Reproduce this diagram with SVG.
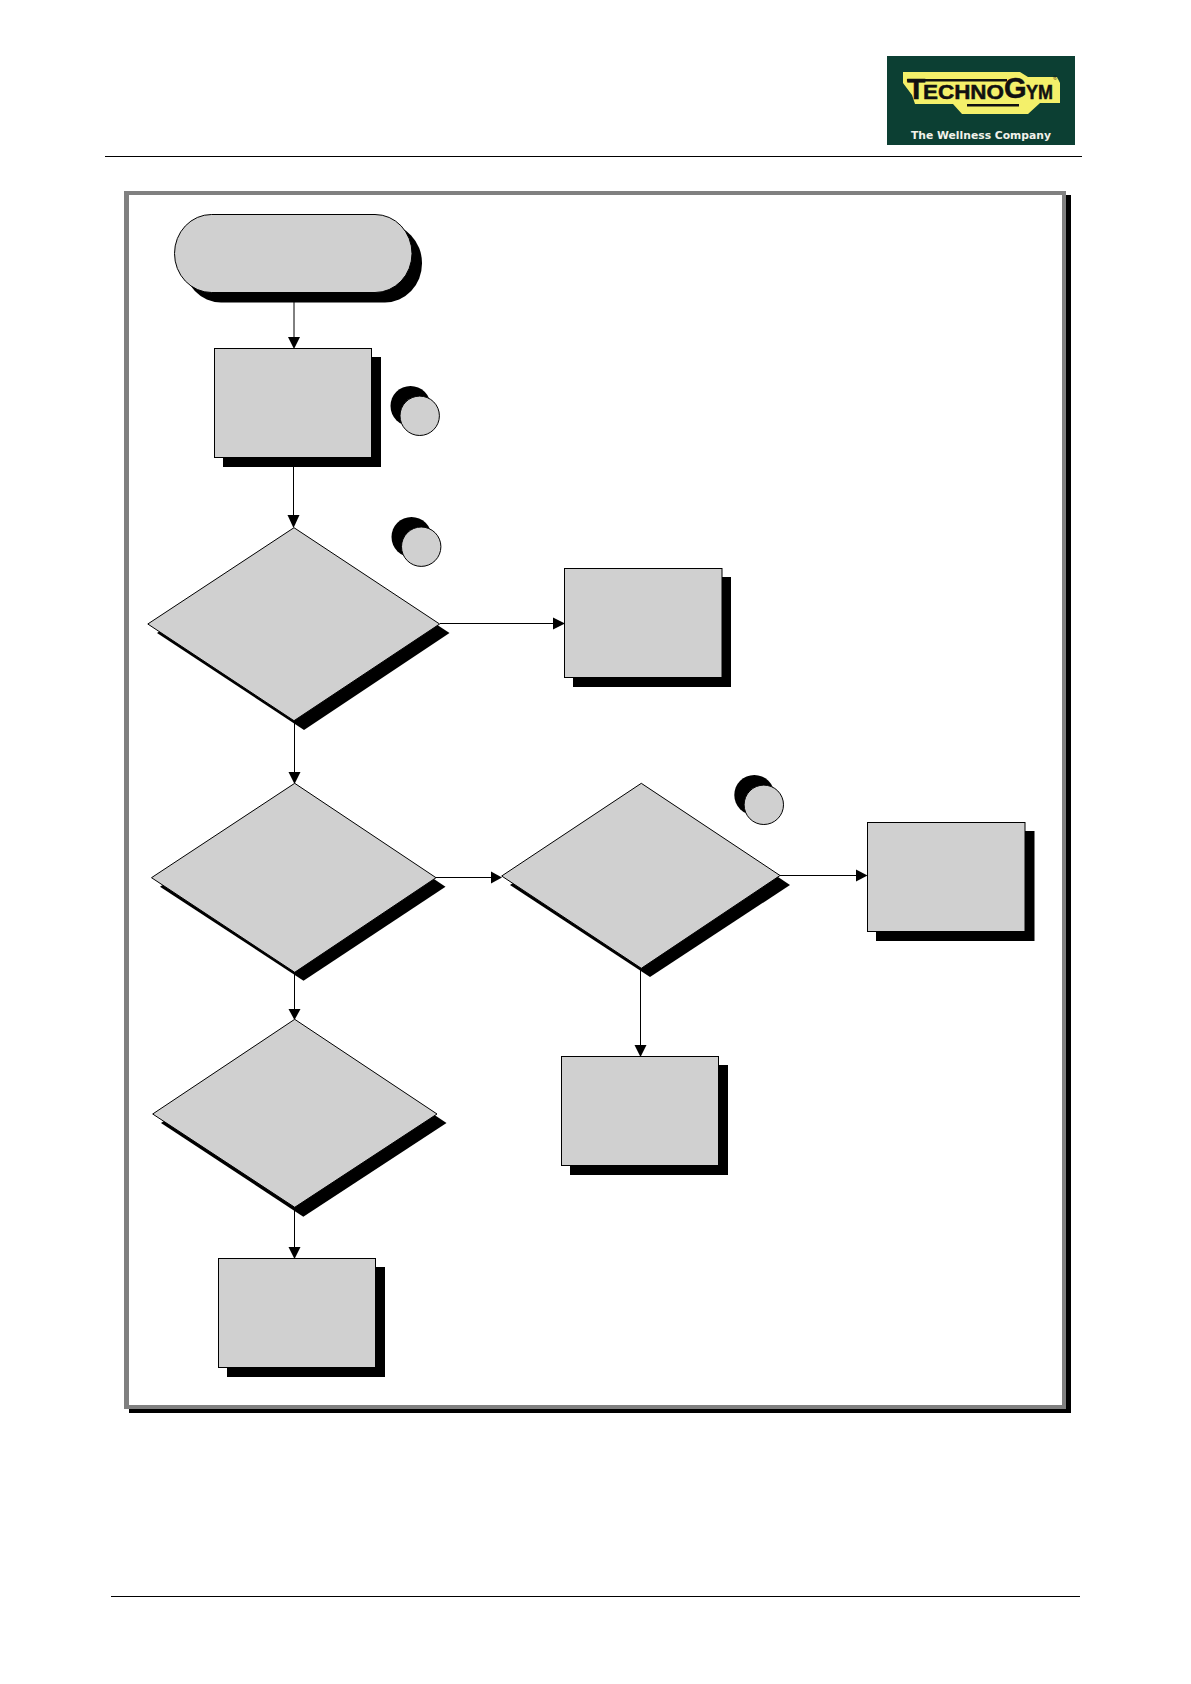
<svg xmlns="http://www.w3.org/2000/svg" width="1191" height="1684" viewBox="0 0 1191 1684">
<style>
.n{fill:#d0d0d0;stroke:#000;stroke-width:1}
.s{fill:#000}
.c{fill:none;stroke:#000;stroke-width:1}
.h{fill:#000}
.r{fill:#000;stroke:none}
.lg{fill:#111;font-family:'Liberation Sans',Arial,sans-serif;font-weight:700;stroke:#111;stroke-width:.5}
</style>
<rect width="1191" height="1684" fill="#fff"/>
<g id="page-lines">
<rect class="r" x="105" y="156" width="977" height="1"/>
<rect class="r" x="111" y="1596" width="969" height="1"/>
</g>
<g id="logo">
<rect x="887" y="56" width="188" height="89" fill="#0c3f33"/>
<polygon points="903,72 1020,72 1028,77 1057,77 1060,83 1060,103 1040,103 1028,114 962,114 953,104 915,104 912,95 903,83" fill="#f4f06a"/>
<text class="lg" transform="translate(907,99)"><tspan x="0" font-size="30">T</tspan><tspan x="16" font-size="21" textLength="81" lengthAdjust="spacingAndGlyphs">ECHNO</tspan><tspan x="97" y="-1" font-size="29">G</tspan><tspan x="119" y="0" font-size="21" textLength="27" lengthAdjust="spacingAndGlyphs">YM</tspan></text>
<rect x="907" y="79" width="100" height="2.500" fill="#111"/>
<rect x="967" y="104" width="52" height="2.500" fill="#111"/>
<text x="1053" y="80" font-family="'Liberation Sans',Arial,sans-serif" font-size="6" fill="#111">®</text>
<text x="981" y="139" text-anchor="middle" font-family="'DejaVu Sans',sans-serif" font-weight="700" font-size="11" fill="#f2f2ea" textLength="140" lengthAdjust="spacingAndGlyphs">The Wellness Company</text>
</g>
<g id="frame">
<rect class="r" x="129" y="195" width="942" height="1218"/>
<rect x="124" y="191" width="942" height="1218" fill="#808080"/>
<rect x="129" y="195" width="933" height="1210" fill="#fff"/>
</g>
<g id="connectors">
<path class="c" d="M294 302V337"/><polygon class="h" points="288,337 300,337 294,349"/>
<path class="c" d="M293.500 466V516"/><polygon class="h" points="287.500,515 299.500,515 293.500,528"/>
<path class="c" d="M440 623.500H554"/><polygon class="h" points="553,617.500 553,629.500 565,623.500"/>
<path class="c" d="M294.500 720V773"/><polygon class="h" points="288.500,772 300.500,772 294.500,784"/>
<path class="c" d="M436 877.500H492"/><polygon class="h" points="491,871.500 491,883.500 502,877.500"/>
<path class="c" d="M780 875.500H857"/><polygon class="h" points="856,869.500 856,881.500 867.500,875.500"/>
<path class="c" d="M294.500 972V1010"/><polygon class="h" points="288.500,1009 300.500,1009 294.500,1020"/>
<path class="c" d="M640.500 968V1046"/><polygon class="h" points="634.500,1045 646.500,1045 640.500,1057"/>
<path class="c" d="M294.500 1207V1248"/><polygon class="h" points="288.500,1247 300.500,1247 294.500,1259"/>
</g>
<g id="start"><rect class="s" x="184" y="224" width="238" height="78.500" rx="37" ry="39"/><rect class="n" x="174.500" y="214.500" width="237.500" height="78" rx="37" ry="39"/></g>
<g id="box1"><rect class="s" x="223" y="357" width="158" height="110"/><rect class="n" x="214.500" y="348.500" width="157" height="109"/></g>
<g id="badge1"><circle class="s" cx="410.500" cy="406" r="20"/><circle class="n" cx="419.700" cy="415.800" r="19.700"/></g>
<g id="decision1"><polygon class="s" points="303.500,537 449.500,633 304,730 157,633"/><polygon class="n" points="294,527.700 439.600,624 294,720.700 147.800,624"/></g>
<g id="badge2"><circle class="s" cx="411.500" cy="537" r="20"/><circle class="n" cx="421.200" cy="546.700" r="19.700"/></g>
<g id="box2"><rect class="s" x="573" y="577" width="158" height="110"/><rect class="n" x="564.500" y="568.500" width="157.500" height="109"/></g>
<g id="decision2"><polygon class="s" points="304,792 445.500,886.700 303.500,980.700 160,886.700"/><polygon class="n" points="294.700,783.300 436,877.700 294.700,972.300 151.500,877.700"/></g>
<g id="decision3"><polygon class="s" points="650.500,792 790,885 650,977 510,885"/><polygon class="n" points="641.300,783.300 780,875.500 641.300,968.300 501.700,876"/></g>
<g id="badge3"><circle class="s" cx="754.300" cy="795" r="20"/><circle class="n" cx="763.800" cy="804.800" r="19.700"/></g>
<g id="box3"><rect class="s" x="876" y="831" width="158.500" height="110"/><rect class="n" x="867.500" y="822.500" width="157.500" height="109"/></g>
<g id="box4"><rect class="s" x="570" y="1065" width="158" height="110"/><rect class="n" x="561.500" y="1056.500" width="157" height="109"/></g>
<g id="decision4"><polygon class="s" points="304,1028 446.500,1123 303.300,1216.700 161,1123"/><polygon class="n" points="294.700,1019.300 437,1114 294.700,1207.300 152.700,1114"/></g>
<g id="box5"><rect class="s" x="227" y="1267" width="158" height="110"/><rect class="n" x="218.500" y="1258.500" width="157" height="109"/></g>
</svg>
